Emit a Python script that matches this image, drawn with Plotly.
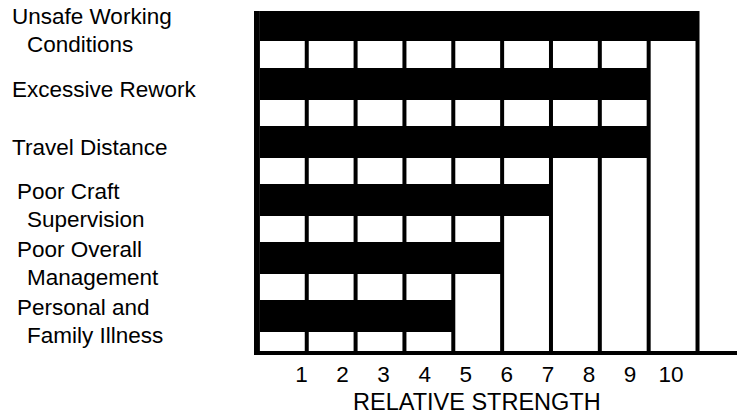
import plotly.graph_objects as go

# ---------------- data ----------------
factors = [
    "Unsafe Working Conditions",
    "Excessive Rework",
    "Travel Distance",
    "Poor Craft Supervision",
    "Poor Overall Management",
    "Personal and Family Illness",
]
label_lines = [
    ["Unsafe Working", "   Conditions"],
    ["Excessive Rework"],
    ["Travel Distance"],
    [" Poor Craft", "   Supervision"],
    [" Poor Overall", "   Management"],
    [" Personal and", "   Family Illness"],
]
strength = [10.65, 9.45, 9.45, 7.1, 5.9, 4.7]
tick_values = [1, 2, 3, 4, 5, 6, 7, 8, 9, 10]
tick_labels = ["1", "2", "3", "4", "5", "6", "7", "8", "9", "10"]
x_title = "RELATIVE STRENGTH"

# ---------------- layout / style ----------------
W, H = 737, 415
M_L, M_R, M_T, M_B = 254, 0, 11, 64
X_RANGE = [-0.156, 11.605]
Y_RANGE = [5.604, -0.249]
BAR_WIDTH = 0.55
GRID_START, GRID_STEP, GRID_GAP = -0.061, 1.1894, 0.0974
FONT = "Arial, Liberation Sans, sans-serif"
LABEL_SIZE = 22.5
TICK_SIZE = 22.5
TITLE_SIZE = 23.5
SPACE_PX = 5.2
LABEL_LEFT_PX = 9.5
LABEL_DY = 5.5
LINE_PITCH = 28

n_cols = round((max(strength) - GRID_START) / GRID_STEP)
frame_right = GRID_START + n_cols * GRID_STEP + GRID_GAP / 2

fig = go.Figure()
fig.add_trace(go.Bar(
    y=factors, x=strength, orientation="h",
    width=BAR_WIDTH,
    marker=dict(color="black", line=dict(width=0)),
    hoverinfo="skip",
))

shapes = [dict(type="rect", xref="paper", yref="paper", layer="below",
               x0=0, x1=(frame_right - X_RANGE[0]) / (X_RANGE[1] - X_RANGE[0]),
               y0=0, y1=1, fillcolor="black", line=dict(width=0))]
for k in range(n_cols):
    shapes.append(dict(
        type="rect", xref="x", yref="paper", layer="below",
        x0=GRID_START + k * GRID_STEP + GRID_GAP / 2,
        x1=GRID_START + (k + 1) * GRID_STEP - GRID_GAP / 2,
        y0=0, y1=1, fillcolor="white", line=dict(width=0)))

annotations = []
for name, lines in zip(factors, label_lines):
    n = len(lines)
    for j, line in enumerate(lines):
        indent = len(line) - len(line.lstrip(" "))
        annotations.append(dict(
            xref="paper", x=0, xanchor="left",
            xshift=LABEL_LEFT_PX - M_L + indent * SPACE_PX,
            yref="y", y=name, yanchor="middle",
            yshift=-(LABEL_DY + (j - (n - 1) / 2) * LINE_PITCH),
            text=line.strip(), showarrow=False, align="left",
            font=dict(family=FONT, size=LABEL_SIZE, color="black"),
        ))
annotations.append(dict(
    xref="paper", x=(477 - M_L) / (W - M_L - M_R), xanchor="center",
    yref="paper", y=0, yanchor="top", yshift=-37.5,
    borderpad=0, borderwidth=0,
    text=x_title, showarrow=False,
    font=dict(family=FONT, size=TITLE_SIZE, color="black"),
))

fig.update_layout(
    width=W, height=H, autosize=False,
    margin=dict(l=M_L, r=M_R, t=M_T, b=M_B, pad=0),
    paper_bgcolor="white", plot_bgcolor="white",
    showlegend=False, bargap=0,
    shapes=shapes, annotations=annotations,
    xaxis=dict(range=X_RANGE, tickvals=tick_values, ticktext=tick_labels,
               showgrid=False, zeroline=False, showline=True,
               linecolor="black", linewidth=4, ticks="",
               tickfont=dict(family=FONT, size=TICK_SIZE, color="black"),
               fixedrange=True),
    yaxis=dict(type="category", categoryorder="array", categoryarray=factors,
               range=Y_RANGE, visible=False, showgrid=False, zeroline=False,
               fixedrange=True),
)

fig.write_html(
    "out.html",
    config={"displayModeBar": False},
    post_script="document.body.style.margin='0';document.body.style.overflow='hidden';",
)
